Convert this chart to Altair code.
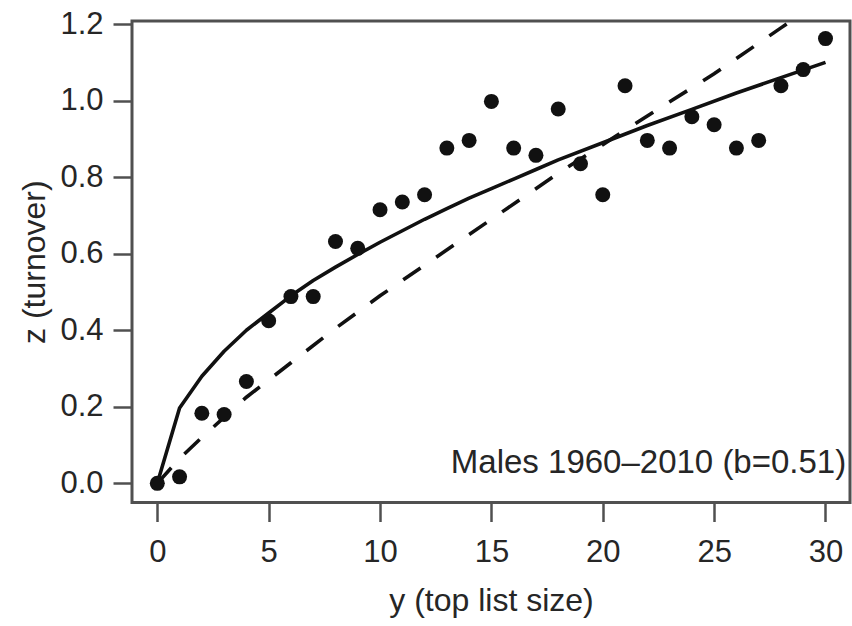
import altair as alt
import pandas as pd

# Observed turnover points (top list size y, turnover z)
pt_x = list(range(31))
pt_z = [0.0, 0.017, 0.183, 0.180, 0.266, 0.425, 0.488, 0.488, 0.632, 0.614,
        0.715, 0.735, 0.754, 0.876, 0.896, 0.998, 0.876, 0.857, 0.978, 0.835,
        0.754, 1.039, 0.896, 0.876, 0.958, 0.937, 0.876, 0.896, 1.039, 1.081,
        1.162]

# Solid fitted curve
fit_x = [0, 1, 2, 3, 4, 5, 6, 7, 8, 9, 10, 11, 12, 13, 14, 15, 16, 17, 18, 20,
         22, 24, 26, 28, 30]
fit_z = [0.0, 0.197, 0.28, 0.345, 0.40, 0.445, 0.49, 0.53, 0.565, 0.598, 0.63,
         0.66, 0.69, 0.718, 0.745, 0.77, 0.795, 0.82, 0.845, 0.89, 0.935, 0.977,
         1.02, 1.06, 1.10]

# Dashed reference curve
dash_x = [0, 1, 2, 4, 6, 8, 10, 12, 15, 18, 20, 22, 25, 28, 29]
dash_z = [0.0, 0.065, 0.12, 0.225, 0.315, 0.405, 0.49, 0.57, 0.69, 0.81,
          0.885, 0.96, 1.07, 1.19, 1.23]

x_ticks = [0, 5, 10, 15, 20, 25, 30]
y_ticks = [0.0, 0.2, 0.4, 0.6, 0.8, 1.0, 1.2]

note_text = ["Males 1960\u20132010 (b=0.51)"]
note_x = [30.93]
note_z = [0.027]

FONT = "Liberation Sans, Arial, Helvetica, sans-serif"
INK = "#262626"
FRAME = "#505050"

points = pd.DataFrame({"x": pt_x, "z": pt_z})
fit = pd.DataFrame({"x": fit_x, "z": fit_z})
dash = pd.DataFrame({"x": dash_x, "z": dash_z})
note = pd.DataFrame({"x": note_x, "z": note_z, "t": note_text})

xscale = alt.Scale(domain=[-1.136, 31.1], nice=False, zero=False)
yscale = alt.Scale(domain=[-0.050, 1.208], nice=False, zero=False)

xaxis = alt.Axis(values=x_ticks, title="y (top list size)", domain=False, grid=False,
                 tickSize=19, tickWidth=2.5, tickColor=FRAME,
                 labelFont=FONT, labelFontSize=31, labelColor=INK, labelPadding=16,
                 labelFlush=False, labelOverlap=False,
                 titleFont=FONT, titleFontSize=32, titleFontWeight="normal", titleColor=INK,
                 titleX=359, titleY=107.5, titleAlign="center", titleBaseline="alphabetic")
yaxis = alt.Axis(values=y_ticks, format=".1f", title="z (turnover)", domain=False, grid=False,
                 tickSize=19, tickWidth=2.5, tickColor=FRAME,
                 labelFont=FONT, labelFontSize=31, labelColor=INK, labelPadding=10,
                 labelFlush=False, labelOverlap=False,
                 titleFont=FONT, titleFontSize=32, titleFontWeight="normal", titleColor=INK,
                 titleAngle=270, titleX=-88, titleY=240.7, titleAlign="center",
                 titleBaseline="alphabetic")

X = alt.X("x:Q", scale=xscale, axis=xaxis)
Y = alt.Y("z:Q", scale=yscale, axis=yaxis)

dashed = alt.Chart(dash).mark_line(color="#111111", strokeWidth=3.6, strokeDash=[21, 19],
                                   clip=True).encode(x=X, y=Y)

solid = alt.Chart(fit).mark_line(color="#111111", strokeWidth=3.6, strokeJoin="round",
                                 clip=True).encode(x=X, y=Y)

dots = alt.Chart(points).mark_point(filled=True, shape="circle", size=225,
                                    color="#111111", opacity=1).encode(x=X, y=Y)

label = alt.Chart(note).mark_text(align="right", baseline="alphabetic", font=FONT,
                                  fontSize=33, color=INK).encode(x=X, y=Y, text="t:N")

chart = alt.layer(dashed, solid, dots, label).properties(
    width=718, height=481.5,
    autosize=alt.AutoSizeParams(type="none"),
    padding={"left": 132, "top": 21, "right": 2, "bottom": 123.5},
    background="white",
).configure_view(stroke=FRAME, strokeWidth=3)

chart.save("out.html", embed_options={"renderer": "svg", "actions": False})
